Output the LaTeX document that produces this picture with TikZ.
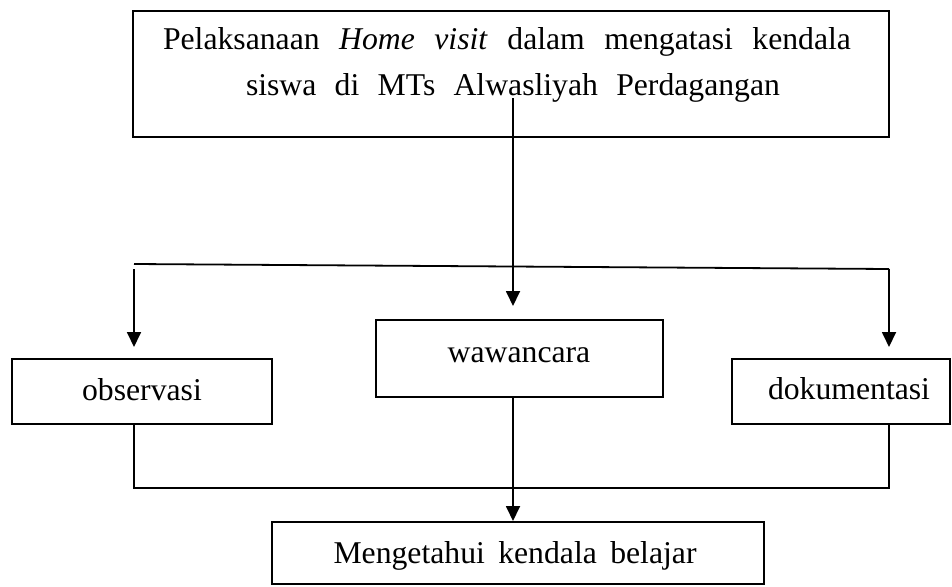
\documentclass[tikz,border=0pt]{standalone}
\usepackage{fontspec}
\setmainfont{Liberation Serif}
\usetikzlibrary{arrows.meta}
\begin{document}
\begin{tikzpicture}[x=1pt,y=-1pt,
  box/.style={draw=black,line width=1.6pt,rectangle,inner sep=0pt},
  txt/.style={anchor=base,inner sep=0pt,font=\fontsize{31.7}{38}\selectfont},
  conn/.style={draw=black,line width=1.8pt},
  arr/.style={conn,-{Triangle[length=15pt,width=14pt]}}]
\useasboundingbox[fill=white] (0,0) rectangle (952,586);
% boxes
\node[box,minimum width=756pt,minimum height=126pt] (top) at (511,74) {};
\node[box,minimum width=260pt,minimum height=65pt] (obs) at (142,391.5) {};
\node[box,minimum width=287pt,minimum height=77pt] (waw) at (519.5,358.5) {};
\node[box,minimum width=218pt,minimum height=65pt] (dok) at (841,391.5) {};
\node[box,minimum width=492pt,minimum height=62pt] (res) at (518,553) {};
% texts
\node[txt] (t1) at (507,50) {\makebox[688pt][s]{Pelaksanaan \textit{Home visit} dalam mengatasi kendala}};
\node[txt] (t2) at (513,95) {\makebox[534pt][s]{siswa di MTs Alwasliyah Perdagangan}};
\node[txt] (tobs) at (142,400) {observasi};
\node[txt] (twaw) at (519,362) {wawancara};
\node[txt] (tdok) at (849,399) {dokumentasi};
\node[txt] (tres) at (515,563) {\makebox[363pt][s]{Mengetahui kendala belajar}};
% connector coordinates
\coordinate (c0) at (513,98);
\coordinate (hl) at (134,264);
\coordinate (hr) at (889,269);
\coordinate (al) at (134,269);
\coordinate (ar) at (889,269);
\coordinate (tipl) at (134,347);
\coordinate (tipm) at (513,306);
\coordinate (tipr) at (889,347);
\coordinate (bl) at (134,424);
\coordinate (bl2) at (134,488);
\coordinate (br2) at (889,488);
\coordinate (br) at (889,424);
\coordinate (wb) at (513,397);
\coordinate (tipb) at (513,521);
% connectors
\draw[arr] (c0) -- (tipm);
\draw[conn] (hl) -- (hr);
\draw[arr] (al) -- (tipl);
\draw[arr] (ar) -- (tipr);
\draw[conn] (bl) -- (bl2) -- (br2) -- (br);
\draw[arr] (wb) -- (tipb);
\end{tikzpicture}
\end{document}
